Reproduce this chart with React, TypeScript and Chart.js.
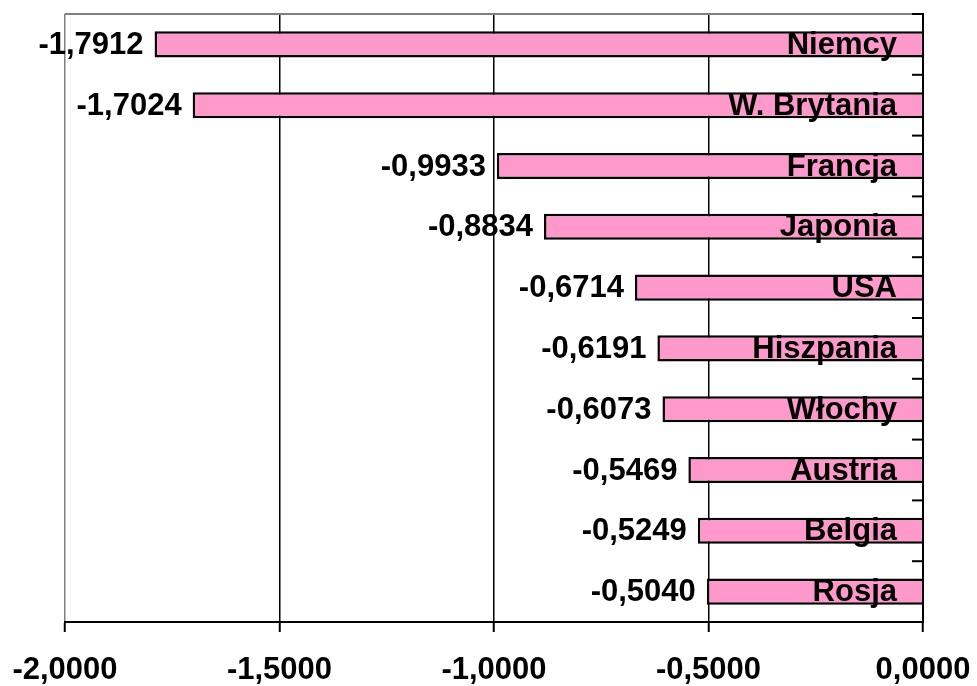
import React, { useEffect, useRef } from "react";
import { Chart, registerables } from "chart.js";

Chart.register(...registerables);

const categories = ["Niemcy", "W. Brytania", "Francja", "Japonia", "USA", "Hiszpania", "Włochy", "Austria", "Belgia", "Rosja"];
const values = [-1.7912, -1.7024, -0.9933, -0.8834, -0.6714, -0.6191, -0.6073, -0.5469, -0.5249, -0.504];
const axisMin = -2;
const axisMax = 0;
const axisStep = 0.5;

const FAMILY = "Arial, 'Liberation Sans', sans-serif";
const FONT = `bold 31px ${FAMILY}`;
const fmt = (v: number) => v.toFixed(4).replace(".", ",").replace(/^-0,0000$/, "0,0000");

const overlay = {
  id: "overlay",
  afterDatasetsDraw(chart: any) {
    const ctx = chart.ctx;
    const area = chart.chartArea;
    const xs = chart.scales.x;
    const ys = chart.scales.y;
    ctx.save();
    ctx.strokeStyle = "#808080";
    ctx.lineWidth = 2;
    ctx.beginPath();
    ctx.moveTo(area.left, area.top);
    ctx.lineTo(area.right, area.top);
    ctx.stroke();
    ctx.strokeStyle = "#000";
    ctx.lineWidth = 2;
    for (let i = 0; i < categories.length; i++) {
      const yb = ys.getPixelForValue(i - 0.5);
      ctx.beginPath();
      ctx.moveTo(area.right, yb);
      ctx.lineTo(area.right - 11, yb);
      ctx.stroke();
    }
    const meta = chart.getDatasetMeta(0);
    ctx.font = FONT;
    ctx.fillStyle = "#000";
    ctx.textBaseline = "middle";
    meta.data.forEach((bar: any, i: number) => {
      const y = bar.y + 1;
      ctx.textAlign = "right";
      ctx.fillText(fmt(values[i]), bar.x - 11, y);
      ctx.fillText(categories[i], xs.getPixelForValue(0) - 26, y);
    });
    ctx.restore();
  },
};

export default function App() {
  const ref = useRef<HTMLCanvasElement>(null);
  useEffect(() => {
    document.body.style.margin = "0";
    const chart = new Chart(ref.current!, {
      type: "bar",
      data: {
        labels: categories,
        datasets: [
          {
            data: values,
            backgroundColor: "#FF99CC",
            borderColor: "#000",
            borderWidth: 2.5,
            barPercentage: 0.43,
            categoryPercentage: 1,
          },
        ],
      },
      options: {
        indexAxis: "y",
        responsive: false,
        animation: false,
        layout: { padding: { top: 14, left: 65, right: 0, bottom: 0 } },
        plugins: { legend: { display: false }, tooltip: { enabled: false } },
        scales: {
          x: {
            type: "linear",
            min: axisMin,
            max: axisMax,
            afterFit: (s: any) => {
              s.height = 64;
              s.paddingLeft = 0;
              s.paddingRight = 0;
            },
            ticks: {
              stepSize: axisStep,
              callback: (v: any) => fmt(Number(v)),
              font: { family: FAMILY, size: 31, weight: "bold" },
              color: "#000",
              padding: 20,
              maxRotation: 0,
            },
            grid: {
              color: (c: any) => (c.tick && c.tick.value === axisMin ? "#808080" : "#000"),
              lineWidth: 1.5,
              tickColor: "#000",
              tickLength: 10,
              tickWidth: 2,
            },
            border: { color: "#000", width: 2 },
          },
          y: {
            type: "category",
            position: "right",
            afterFit: (s: any) => {
              s.width = 54;
              s.paddingTop = 0;
              s.paddingBottom = 0;
            },
            ticks: { display: false },
            grid: { drawOnChartArea: false, drawTicks: false },
            border: { color: "#000", width: 2 },
          },
        },
      },
      plugins: [overlay],
    });
    return () => chart.destroy();
  }, []);
  return <canvas ref={ref} width={977} height={686} />;
}
